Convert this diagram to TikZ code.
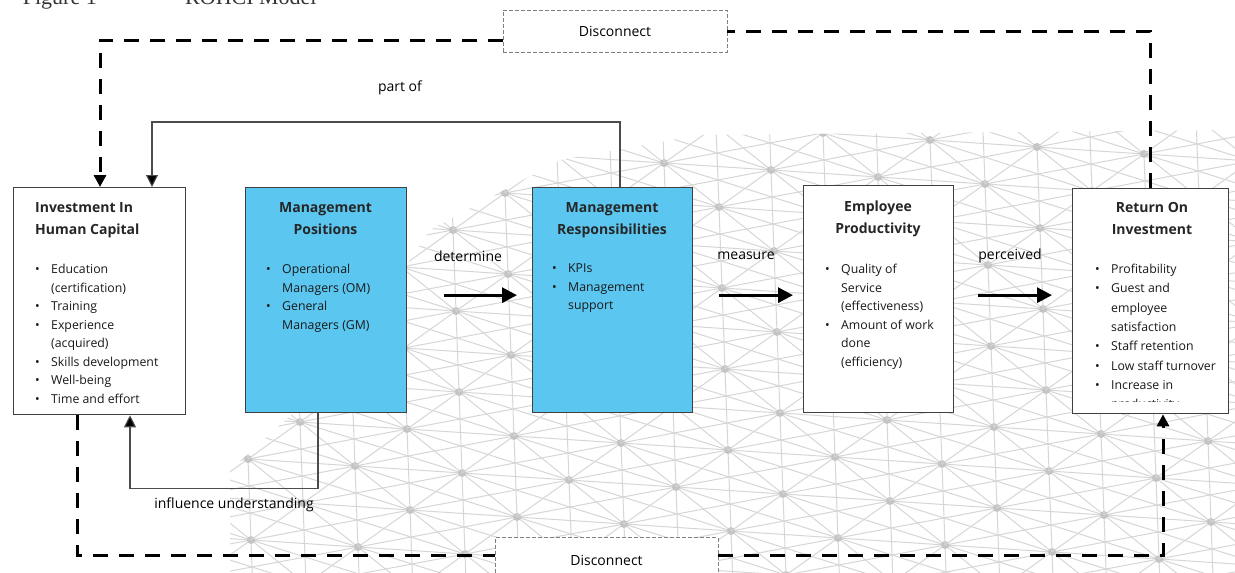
\documentclass[tikz,border=0pt]{standalone}
\usepackage{fontspec}
\setmainfont{Open Sans}
\newfontfamily\capfont{Liberation Serif}
\usetikzlibrary{arrows.meta,calc}
\definecolor{boxblue}{RGB}{91,199,240}
\definecolor{meshgray}{RGB}{214,214,214}
\definecolor{stargray}{RGB}{196,196,196}
\newcommand{\myitem}[1]{\makebox[16pt][l]{\textbullet}#1}
\newcommand{\mycont}[1]{\hspace*{16pt}#1}
\begin{document}
\begin{tikzpicture}[x=1pt,y=-1pt,
 box/.style={draw=black!75, line width=1.3pt, fill=white, inner sep=0pt, anchor=north west},
 bluebox/.style={box, fill=boxblue},
 ttl/.style={font=\fontsize{14}{22}\selectfont\bfseries, align=center, inner sep=0pt, text=black!85, anchor=north},
 bul/.style={font=\fontsize{12.3}{18.5}\selectfont, align=left, inner sep=0pt, anchor=north west, text=black!90},
 flow/.style={line width=3pt, -{Triangle[length=15pt,width=15pt]}},
 conn/.style={line width=1.1pt, draw=black!70, -{Triangle[length=12pt,width=12pt,fill=black]}},
 dis/.style={line width=3pt, dash pattern=on 15pt off 11pt, -{Triangle[length=12pt,width=12pt]}},
 disbox/.style={draw=black!50, line width=0.9pt, dash pattern=on 4pt off 2pt, fill=white, inner sep=0pt, font=\fontsize{14}{16}\selectfont},
 lbl/.style={font=\fontsize{14}{16}\selectfont, inner sep=0pt},
 mesh/.style={draw=meshgray, line width=1pt}
]
\useasboundingbox (0,0) rectangle (1235,573);
\clip (0,0) rectangle (1235,573);
\fill[white] (0,0) rectangle (1235,573);

% background mesh
\begin{scope}
\clip (230,573) -- (230,470) -- (330,380) -- (430,230) -- (560,160) -- (700,135) -- (1235,130) -- (1235,573) -- cycle;
\foreach \i in {-9,...,9}{
 \foreach \j in {-8,...,5}{
  \pgfmathsetmacro{\px}{780+107*\i+55*\j}
  \pgfmathsetmacro{\py}{413+7*\i+44*\j}
  \draw[mesh] (\px,\py) -- ++(107,7) (\px,\py) -- ++(55,44) (\px,\py) -- ++(-52,37)
    (\px,\py) -- ++(162,51) (\px,\py) -- ++(3,81) (\px,\py) -- ++(159,-30);
  \fill[stargray] (\px,\py) circle[radius=4pt];
 }}
\end{scope}

% caption (cut at top)
\node[font=\capfont\fontsize{22}{22}\selectfont, anchor=base east, inner sep=0pt, text=black!80] (fig) at (97,4) {Figure 1};
\node[font=\capfont\fontsize{22}{22}\selectfont, anchor=base west, inner sep=0pt, text=black!80] (model) at (185,4) {ROHCI Model};

% boxes
\node[box, minimum width=172pt, minimum height=227pt] (b1) at (13,187) {};
\node[bluebox, minimum width=161pt, minimum height=225pt] (b2) at (245,187) {};
\node[bluebox, minimum width=160pt, minimum height=225pt] (b3) at (532,187) {};
\node[box, minimum width=150pt, minimum height=227pt] (b4) at (803,185) {};
\node[box, minimum width=156pt, minimum height=225pt] (b5) at (1072,188) {};

% titles
\node[ttl, anchor=north west, align=left] (t1) at (35,202) {Investment In\\Human Capital};
\node[ttl] (t2) at (325.5,202) {Management\\Positions};
\node[ttl] (t3) at (612,202) {Management\\Responsibilities};
\node[ttl] (t4) at (878,201) {Employee\\Productivity};
\node[ttl] (t5) at (1152,202) {Return On\\Investment};

% bullet lists
\node[bul] (l1) at (35,264) {\myitem{Education}\\\mycont{(certification)}\\\myitem{Training}\\\myitem{Experience}\\\mycont{(acquired)}\\\myitem{Skills development}\\\myitem{Well-being}\\\myitem{Time and effort}};
\node[bul] (l2) at (266,264) {\myitem{Operational}\\\mycont{Managers (OM)}\\\myitem{General}\\\mycont{Managers (GM)}};
\node[bul] (l3) at (552,264) {\myitem{KPIs}\\\myitem{Management}\\\mycont{support}};
\node[bul] (l4) at (825,264) {\myitem{Quality of}\\\mycont{Service}\\\mycont{(effectiveness)}\\\myitem{Amount of work}\\\mycont{done}\\\mycont{(efficiency)}};
\begin{scope}
\clip (1072,188) rectangle (1228,401);
\node[bul, font=\fontsize{12.3}{19.3}\selectfont] (l5) at (1095,264) {\myitem{Profitability}\\\myitem{Guest and}\\\mycont{employee}\\\mycont{satisfaction}\\\myitem{Staff retention}\\\myitem{Low staff turnover}\\\myitem{Increase in}\\\mycont{productivity}};
\end{scope}

% flow arrows
\draw[flow] ($(b2.east)+(37,-5)$) -- ($(b3.west)+(-15,-5)$);
\draw[flow] ($(b3.east)+(26,-5)$) -- ($(b4.west)+(-10,-4)$);
\draw[flow] ($(b4.east)+(24,-4)$) -- ($(b5.west)+(-20,-6)$);
\node[lbl] (ldet) at (468,256) {determine};
\node[lbl] (lmea) at (746,256) {measure};
\node[lbl] (lper) at (1010,256) {perceived};

% part of
\draw[conn] ($(b3.north west)+(88,0)$) -- ++(0,-65) -| ($(b1.north west)+(139,0)$);
\node[lbl] (lpart) at (400,88) {part of};

% influence understanding
\draw[conn] ($(b2.south west)+(73,0)$) -- ++(0,75) -| ($(b1.south west)+(117,0)$);
\node[lbl] (linf) at (234,505) {influence understanding};

% disconnect boxes
\node[disbox, minimum width=224pt, minimum height=42pt] (dtop) at (615,31) {Disconnect};
\node[disbox, minimum width=223pt, minimum height=45pt] (dbot) at (606.5,560) {Disconnect};

% dashed disconnect paths
\draw[dis, -] ($(b5.north west)+(78,0)$) |- (dtop.east);
\draw[dis] ($(dtop.west)+(0,9)$) -| ($(b1.north west)+(87,0)$);
\draw[dis, -] ($(b1.south west)+(64,0)$) |- ($(dbot.west)+(0,-5)$);
\draw[dis] ($(dbot.east)+(0,-5)$) -| ($(b5.south west)+(91,0)$);
\end{tikzpicture}
\end{document}
